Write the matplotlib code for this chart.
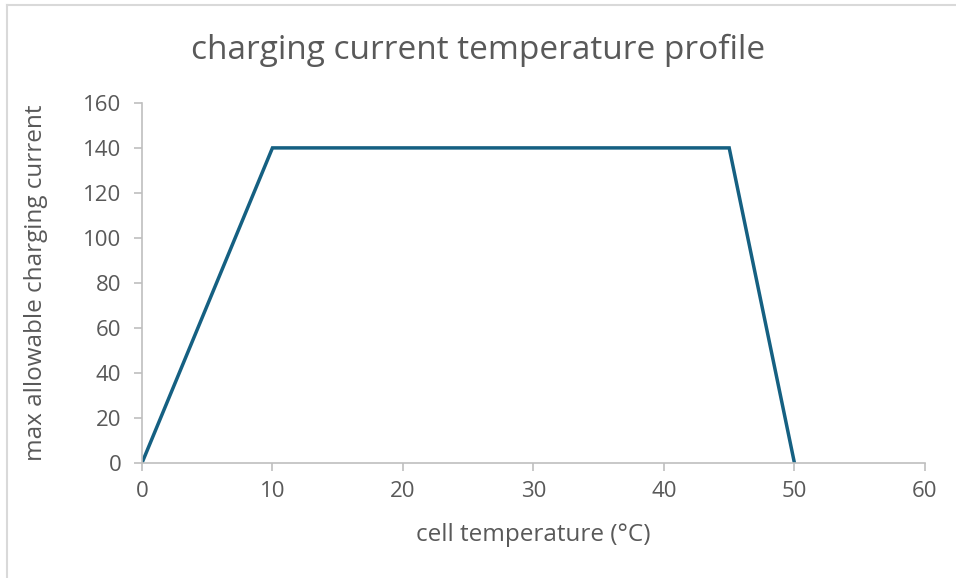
import matplotlib.pyplot as plt
from matplotlib.lines import Line2D

# charging current vs temperature
temps = [0, 10, 45, 50]
current = [0, 140, 140, 0]
xticks = [0, 10, 20, 30, 40, 50, 60]
yticks = [0, 20, 40, 60, 80, 100, 120, 140, 160]

plt.rcParams['font.family'] = ['Open Sans', 'DejaVu Sans']
txt = '#595959'
grey = '#bfbfbf'

fig = plt.figure(figsize=(9.56, 5.78), dpi=100)
ax = fig.add_axes([0.1485, 0.199, 0.819, 0.623])

ax.plot(temps, current, color='#156082', lw=2.5, solid_joinstyle='miter')

ax.set_xlim(0, 60)
ax.set_ylim(0, 160)
ax.set_xticks(xticks)
ax.set_yticks(yticks)
ax.tick_params(colors=grey, labelcolor=txt, labelsize=16, length=6, width=1.2)
ax.tick_params(axis='x', pad=7)
ax.tick_params(axis='y', pad=9)

for s in ['top', 'right']:
    ax.spines[s].set_visible(False)
for s in ['left', 'bottom']:
    ax.spines[s].set_color(grey)
    ax.spines[s].set_linewidth(1.2)

ax.set_xlabel('cell temperature (°C)', color=txt, fontsize=17.5, labelpad=15)
ax.set_ylabel('max allowable charging current', color=txt, fontsize=17.5, labelpad=25)
fig.text(0.5, 0.912, 'charging current temperature profile', color=txt,
         fontsize=24, ha='center', va='center')

# light frame on left and top edges
fig.add_artist(Line2D([0.0068, 0.0068], [0, 0.991], color='#d9d9d9', lw=1.5,
                      transform=fig.transFigure))
fig.add_artist(Line2D([0.0068, 1], [0.991, 0.991], color='#d9d9d9', lw=1.5,
                      transform=fig.transFigure))

fig.savefig('out.png', dpi=100)
